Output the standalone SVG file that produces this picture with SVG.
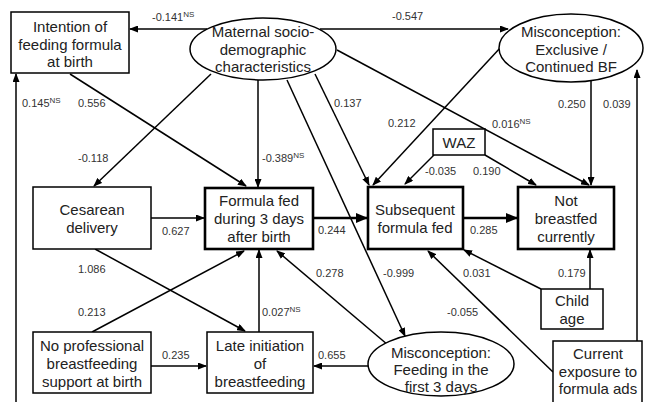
<svg xmlns="http://www.w3.org/2000/svg" width="645" height="402" viewBox="0 0 645 402">
<defs>
<marker id="ah" markerUnits="userSpaceOnUse" markerWidth="9" markerHeight="7" refX="8" refY="3.5" orient="auto"><path d="M0,0 L9,3.5 L0,7 z" fill="#000"/></marker>
<marker id="ahb" markerUnits="userSpaceOnUse" markerWidth="12" markerHeight="10" refX="11" refY="5" orient="auto"><path d="M0,0 L12,5 L0,10 z" fill="#000"/></marker>
</defs>
<style>
.box{fill:#fff;stroke:#000;stroke-width:1.5}
.bold{fill:#fff;stroke:#000;stroke-width:2.6}
.nt{font-family:"Liberation Sans",Arial,sans-serif;font-size:15px;fill:#222;text-anchor:middle}
.lb{font-family:"Liberation Sans",Arial,sans-serif;font-size:11px;fill:#333}
.sup{font-size:8px}
.c{stroke:#000;stroke-width:1.5;fill:none;marker-end:url(#ah)}
.cb{stroke:#000;stroke-width:2.6;fill:none;marker-end:url(#ahb)}
</style>
<rect width="645" height="402" fill="#fff"/>
<g id="connectors">
<line class="c" x1="207" y1="29" x2="130" y2="29"/>
<line class="c" x1="320" y1="29" x2="508" y2="29"/>
<line class="c" x1="70" y1="74" x2="246" y2="186"/>
<line class="c" x1="211" y1="74" x2="94" y2="186"/>
<line class="c" x1="258" y1="80" x2="258" y2="187"/>
<line class="c" x1="287" y1="80" x2="405" y2="336"/>
<line class="c" x1="315" y1="74" x2="369" y2="185"/>
<line class="c" x1="337" y1="50" x2="589" y2="185"/>
<line class="c" x1="501" y1="47" x2="373" y2="185"/>
<line class="c" x1="591" y1="81" x2="591" y2="185"/>
<line class="c" x1="637" y1="341" x2="637" y2="70"/>
<line class="c" x1="16" y1="402" x2="16" y2="74"/>
<line class="c" x1="434" y1="155" x2="405" y2="184"/>
<line class="c" x1="485" y1="155" x2="536" y2="185"/>
<line class="c" x1="151" y1="218" x2="204" y2="218"/>
<line class="cb" x1="313" y1="218" x2="367" y2="218"/>
<line class="cb" x1="463" y1="218" x2="517" y2="218"/>
<line class="c" x1="95" y1="249" x2="245" y2="331"/>
<line class="c" x1="92" y1="332" x2="244" y2="251"/>
<line class="c" x1="259" y1="332" x2="259" y2="250"/>
<line class="c" x1="388" y1="345" x2="277" y2="251"/>
<line class="c" x1="151" y1="366" x2="206" y2="366"/>
<line class="c" x1="368" y1="366" x2="314" y2="366"/>
<line class="c" x1="541" y1="289" x2="464" y2="250"/>
<line class="c" x1="590" y1="289" x2="590" y2="250"/>
<line class="c" x1="553" y1="372" x2="428" y2="251"/>
</g>
<g id="labels">
<text class="lb" x="152" y="21">-0.141<tspan class="sup" dy="-4">NS</tspan></text>
<text class="lb" x="392" y="20">-0.547</text>
<text class="lb" x="22" y="107">0.145<tspan class="sup" dy="-4">NS</tspan></text>
<text class="lb" x="78" y="107">0.556</text>
<text class="lb" x="334" y="107">0.137</text>
<text class="lb" x="388" y="127">0.212</text>
<text class="lb" x="492" y="128">0.016<tspan class="sup" dy="-4">NS</tspan></text>
<text class="lb" x="558" y="108">0.250</text>
<text class="lb" x="603" y="108">0.039</text>
<text class="lb" x="78" y="162">-0.118</text>
<text class="lb" x="262" y="162">-0.389<tspan class="sup" dy="-4">NS</tspan></text>
<text class="lb" x="425" y="175">-0.035</text>
<text class="lb" x="473" y="175">0.190</text>
<text class="lb" x="162" y="235">0.627</text>
<text class="lb" x="318" y="234">0.244</text>
<text class="lb" x="470" y="234">0.285</text>
<text class="lb" x="78" y="273">1.086</text>
<text class="lb" x="316" y="277">0.278</text>
<text class="lb" x="383" y="277">-0.999</text>
<text class="lb" x="463" y="277">0.031</text>
<text class="lb" x="558" y="277">0.179</text>
<text class="lb" x="78" y="316">0.213</text>
<text class="lb" x="262" y="316">0.027<tspan class="sup" dy="-4">NS</tspan></text>
<text class="lb" x="447" y="316">-0.055</text>
<text class="lb" x="162" y="359">0.235</text>
<text class="lb" x="318" y="359">0.655</text>
</g>
<g id="intention">
<rect class="box" x="11" y="12" width="118" height="61"/>
<text class="nt" x="70" y="32">Intention of</text>
<text class="nt" x="70" y="50">feeding formula</text>
<text class="nt" x="70" y="67">at birth</text>
</g>
<g id="maternal">
<ellipse class="box" cx="263" cy="49" rx="73" ry="31"/>
<text class="nt" x="263" y="37">Maternal socio-</text>
<text class="nt" x="263" y="55">demographic</text>
<text class="nt" x="263" y="72">characteristics</text>
</g>
<g id="misc-excl">
<ellipse class="box" cx="571" cy="48" rx="72" ry="34"/>
<text class="nt" x="571" y="37">Misconception:</text>
<text class="nt" x="571" y="55">Exclusive /</text>
<text class="nt" x="571" y="72">Continued BF</text>
</g>
<g id="waz">
<rect class="box" x="433" y="129" width="52" height="26"/>
<text class="nt" x="459" y="148">WAZ</text>
</g>
<g id="cesarean">
<rect class="box" x="33" y="187" width="118" height="62"/>
<text class="nt" x="92" y="215">Cesarean</text>
<text class="nt" x="92" y="233">delivery</text>
</g>
<g id="formula-fed">
<rect class="bold" x="205" y="188" width="108" height="61"/>
<text class="nt" x="259" y="206">Formula fed</text>
<text class="nt" x="259" y="224">during 3 days</text>
<text class="nt" x="259" y="242">after birth</text>
</g>
<g id="subsequent">
<rect class="bold" x="368" y="187" width="95" height="62"/>
<text class="nt" x="415" y="215">Subsequent</text>
<text class="nt" x="415" y="233">formula fed</text>
</g>
<g id="not-bf">
<rect class="bold" x="518" y="187" width="96" height="62"/>
<text class="nt" x="566" y="206">Not</text>
<text class="nt" x="566" y="224">breastfed</text>
<text class="nt" x="566" y="242">currently</text>
</g>
<g id="child-age">
<rect class="box" x="541" y="289" width="62" height="40"/>
<text class="nt" x="572" y="306">Child</text>
<text class="nt" x="572" y="324">age</text>
</g>
<g id="no-prof">
<rect class="box" x="33" y="332" width="118" height="61"/>
<text class="nt" x="92" y="351">No professional</text>
<text class="nt" x="92" y="369">breastfeeding</text>
<text class="nt" x="92" y="387">support at birth</text>
</g>
<g id="late-init">
<rect class="box" x="207" y="332" width="106" height="61"/>
<text class="nt" x="260" y="351">Late initiation</text>
<text class="nt" x="260" y="369">of</text>
<text class="nt" x="260" y="387">breastfeeding</text>
</g>
<g id="misc-feed">
<ellipse class="box" cx="441" cy="364" rx="73" ry="32"/>
<text class="nt" x="441" y="358">Misconception:</text>
<text class="nt" x="441" y="375">Feeding in the</text>
<text class="nt" x="441" y="392">first 3 days</text>
</g>
<g id="exposure">
<rect class="box" x="553" y="341" width="89" height="70"/>
<text class="nt" x="598" y="359">Current</text>
<text class="nt" x="598" y="377">exposure to</text>
<text class="nt" x="598" y="394">formula ads</text>
</g>
</svg>
